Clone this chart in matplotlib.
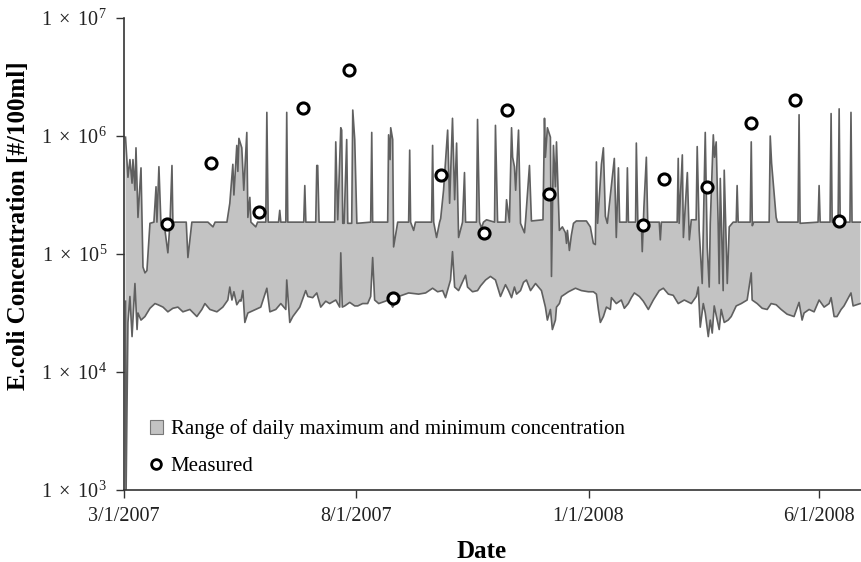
import numpy as np
import pandas as pd
import matplotlib
matplotlib.use("Agg")
import matplotlib.pyplot as plt
import matplotlib.dates as mdates
from matplotlib.lines import Line2D
from matplotlib.patches import Patch
from matplotlib.ticker import NullLocator, FixedLocator

start = pd.Timestamp("2007-03-01")

# daily max envelope: days after 3/1/2007, log10 concentration
upper_days = [1.0, 2.6, 3.9, 5.3, 5.9, 7.2, 7.9, 9.2, 11.2, 12.5, 13.8, 15.1, 17.1, 19.7, 21.1, 21.7, 23.0, 24.3,
              27.0, 28.9, 30.3, 31.6, 32.2, 41.0, 42.1, 44.7, 55.3, 58.6, 60.0, 67.8, 69.7, 71.7, 72.4, 74.3,
              75.0, 75.7, 77.6, 78.9, 80.9, 81.6, 82.9, 83.6, 86.8, 88.0, 93.4, 94.1, 95.0, 101.8, 102.6,
              103.3, 106.6, 107.2, 107.9, 118.4, 119.1, 119.8, 126.3, 127.0, 127.6, 128.5, 138.8, 139.5,
              140.8, 142.8, 143.4, 144.1, 145.0, 146.7, 147.4, 150.0, 150.7, 152.0, 153.4, 162.5, 163.2,
              163.8, 173.7, 174.3, 175.3, 175.7, 177.0, 177.6, 180.3, 187.5, 188.2, 188.8, 190.8, 192.0,
              202.6, 203.3, 204.0, 205.9, 207.9, 208.6, 210.5, 213.2, 214.5, 216.4, 217.8, 219.1, 220.4,
              223.0, 224.3, 225.0, 232.2, 232.9, 234.2, 235.5, 236.8, 238.8, 241.4, 244.1, 244.7, 246.1,
              251.3, 252.0, 253.9, 255.3, 256.0, 257.2, 258.0, 259.9, 261.2, 263.8, 264.5, 267.1, 268.4,
              276.0, 277.0, 277.6, 278.9, 280.9, 281.6, 282.9, 284.2, 284.9, 286.8, 288.8, 290.8, 291.5,
              292.1, 293.4, 294.7, 296.1, 298.0, 304.6, 307.2, 309.2, 310.5, 311.2, 312.0, 314.5, 315.8,
              317.1, 318.4, 323.0, 324.3, 325.7, 326.5, 331.0, 331.6, 332.3, 337.0, 337.5, 338.5, 340.8,
              341.4, 342.5, 344.1, 345.0, 352.6, 353.3, 354.0, 364.4, 365.1, 365.7, 367.8, 368.5, 371.1,
              372.4, 373.7, 376.9, 377.6, 378.9, 380.9, 382.9, 384.2, 385.5, 386.2, 388.2, 389.0, 390.1,
              391.4, 392.1, 392.8, 394.7, 395.4, 397.4, 398.7, 401.3, 403.3, 403.9, 404.6, 412.5, 413.2,
              413.9, 414.8, 425.0, 425.7, 426.6, 429.6, 430.5, 444.0, 444.7, 445.4, 457.2, 457.9, 458.6,
              465.1, 465.8, 466.5, 470.4, 471.1, 471.8, 478.2, 478.9, 479.6, 485.0]
upper_log10 = [5.99, 5.65, 5.80, 5.60, 5.80, 5.54, 5.90, 5.31, 5.73, 4.89, 4.84, 4.86, 5.26, 5.27, 5.57, 5.27, 5.74, 5.27,
               5.20, 5.01, 5.26, 5.75, 5.27, 5.27, 4.97, 5.27, 5.27, 5.23, 5.27, 5.27, 5.43, 5.76, 5.50, 5.92,
               5.70, 5.98, 5.90, 5.54, 6.03, 5.31, 5.48, 5.27, 5.23, 5.27, 5.27, 6.20, 5.27, 5.27, 5.37,
               5.27, 5.27, 6.20, 5.27, 5.27, 5.58, 5.27, 5.27, 5.75, 5.75, 5.27, 5.27, 5.95,
               5.29, 6.07, 6.05, 5.26, 5.26, 5.97, 5.26, 5.26, 6.22, 5.97, 5.26, 5.27, 6.03,
               5.27, 5.27, 6.01, 5.80, 6.07, 5.97, 5.06, 5.27, 5.27, 5.88, 5.27, 5.20, 5.27,
               5.27, 5.92, 5.27, 5.14, 5.27, 5.30, 5.54, 6.05, 5.43, 6.15, 5.46, 5.94, 5.14,
               5.27, 5.69, 5.27, 5.27, 6.14, 5.27, 5.22, 5.27, 5.29, 5.28, 5.27, 6.09, 5.27,
               5.27, 5.46, 5.27, 6.07, 5.82, 5.74, 5.54, 6.05, 5.26, 5.18, 5.28, 5.75, 5.28,
               5.29, 6.15, 5.82, 6.07, 5.99, 4.81, 5.92, 5.57, 5.95, 5.20, 5.23, 5.18, 5.09,
               5.20, 5.03, 5.16, 5.26, 5.28, 5.28, 5.23, 5.09, 5.08, 5.78, 5.26, 5.76, 5.90,
               5.32, 5.26, 5.81, 5.14, 5.73, 5.27, 5.27, 5.73, 5.27, 5.27, 5.94, 5.27, 5.27,
               5.02, 5.40, 5.82, 5.27, 5.27, 5.12, 5.27, 5.27, 5.81, 5.26, 5.84, 5.14, 5.69,
               5.12, 5.29, 5.29, 5.91, 5.20, 4.75, 6.03, 5.06, 4.72, 5.26, 6.01, 5.82, 5.95,
               5.26, 4.75, 5.64, 4.69, 5.71, 4.75, 5.23, 5.27, 5.27, 5.58, 5.27, 5.27, 5.95,
               5.24, 5.27, 5.27, 6.00, 5.77, 5.31, 5.27, 5.27, 6.18, 5.26, 5.27, 5.58, 5.27,
               5.27, 6.19, 5.27, 5.27, 6.23, 5.27, 5.27, 6.20, 5.27, 5.27]

# daily min envelope
lower_days = [1.0, 1.3, 2.6, 3.9, 5.3, 7.2, 8.6, 9.2, 11.2, 13.8, 17.1, 20.4, 22.4, 25.7, 28.9, 32.2, 35.5, 38.8,
              43.4, 48.0, 51.3, 53.3, 56.6, 61.2, 65.1, 68.4, 69.7, 71.1, 72.4, 74.3, 76.3, 77.0, 78.3, 79.6,
              81.6, 86.8, 90.1, 94.1, 96.1, 100.0, 103.3, 106.6, 107.2, 109.2, 111.2, 115.8, 119.7, 121.1,
              124.3, 127.0, 129.6, 132.9, 135.5, 139.5, 142.1, 142.8, 143.8, 145.4, 148.7, 152.0, 154.0,
              157.2, 160.5, 162.5, 163.8, 165.1, 167.8, 174.3, 177.0, 180.9, 187.5, 194.1, 198.7, 203.3,
              206.6, 209.9, 211.8, 215.1, 216.4, 217.8, 220.4, 225.0, 226.3, 229.6, 232.9, 234.9, 238.2,
              241.4, 244.7, 248.0, 251.3, 253.3, 255.3, 257.2, 258.6, 261.2, 263.2, 265.1, 267.8, 271.1,
              275.0, 277.6, 278.9, 280.9, 282.2, 284.2, 284.9, 286.8, 288.2, 292.8, 297.4, 301.3, 305.9,
              309.2, 311.2, 312.5, 313.8, 315.8, 317.8, 320.4, 321.1, 324.3, 327.6, 329.6, 332.2, 334.2,
              336.2, 339.5, 342.1, 345.4, 348.7, 352.6, 355.3, 358.6, 361.8, 365.1, 369.1, 373.7, 377.0,
              378.3, 379.6, 381.6, 382.9, 384.9, 386.2, 387.5, 388.8, 390.8, 392.1, 393.4, 395.4, 398.0,
              400.0, 403.3, 406.6, 410.5, 413.2, 413.8, 417.1, 420.4, 423.7, 426.3, 429.6, 432.9, 436.8,
              441.4, 444.7, 446.7, 448.0, 451.3, 454.6, 457.9, 461.2, 464.5, 465.8, 467.8, 469.7, 472.4,
              474.3, 478.9, 480.3, 485.0]
lower_log10 = [4.60, 2.90, 4.42, 4.64, 4.30, 4.75, 4.36, 4.50, 4.44, 4.47, 4.54, 4.58, 4.57, 4.55, 4.51, 4.54, 4.55, 4.51,
               4.53, 4.47, 4.53, 4.58, 4.53, 4.51, 4.55, 4.61, 4.72, 4.61, 4.68, 4.57, 4.61, 4.60, 4.69, 4.42,
               4.50, 4.53, 4.55, 4.71, 4.51, 4.53, 4.58, 4.53, 4.78, 4.42, 4.47, 4.55, 4.69, 4.64,
               4.63, 4.67, 4.55, 4.60, 4.58, 4.61, 4.55, 5.01, 4.55, 4.56, 4.59, 4.56, 4.56,
               4.58, 4.58, 4.64, 4.97, 4.61, 4.58, 4.61, 4.55, 4.64, 4.67, 4.66, 4.67, 4.71,
               4.68, 4.69, 4.63, 4.78, 5.02, 4.72, 4.69, 4.82, 4.72, 4.68, 4.69, 4.73, 4.78,
               4.81, 4.78, 4.64, 4.74, 4.69, 4.63, 4.72, 4.66, 4.69, 4.76, 4.78, 4.69, 4.75,
               4.69, 4.55, 4.44, 4.53, 4.36, 4.44, 4.55, 4.58, 4.64, 4.68, 4.71, 4.69, 4.68,
               4.68, 4.66, 4.53, 4.42, 4.47, 4.55, 4.53, 4.63, 4.58, 4.61, 4.54, 4.58, 4.63,
               4.67, 4.64, 4.60, 4.53, 4.61, 4.69, 4.71, 4.66, 4.65, 4.58, 4.61, 4.58, 4.64,
               4.72, 4.38, 4.58, 4.50, 4.30, 4.44, 4.33, 4.56, 4.44, 4.36, 4.53, 4.42, 4.44,
               4.47, 4.56, 4.58, 4.61, 4.84, 4.61, 4.58, 4.54, 4.53, 4.58, 4.57, 4.53, 4.49,
               4.47, 4.59, 4.44, 4.50, 4.53, 4.51, 4.61, 4.55, 4.58, 4.63, 4.47, 4.47, 4.53,
               4.56, 4.67, 4.56, 4.58]

# measured samples
measured_dates = ["2007-03-29", "2007-04-27", "2007-05-29", "2007-06-27", "2007-07-27", "2007-08-25",
                  "2007-09-26", "2007-10-24", "2007-11-08", "2007-12-06", "2008-02-06", "2008-02-20",
                  "2008-03-19", "2008-04-17", "2008-05-16", "2008-06-14"]
measured_values = [1.8e5, 5.9e5, 2.27e5, 1.73e6, 3.6e6, 4.2e4, 4.7e5, 1.5e5, 1.66e6, 3.2e5,
                   1.76e5, 4.3e5, 3.7e5, 1.3e6, 2.0e6, 1.9e5]

tick_dates = ["2007-03-01", "2007-08-01", "2008-01-01", "2008-06-01"]
tick_labels = ["3/1/2007", "8/1/2007", "1/1/2008", "6/1/2008"]
ytick_values = [1e3, 1e4, 1e5, 1e6, 1e7]
ytick_labels = [r"$1\ \times\ 10^{3}$", r"$1\ \times\ 10^{4}$", r"$1\ \times\ 10^{5}$",
                r"$1\ \times\ 10^{6}$", r"$1\ \times\ 10^{7}$"]

plt.rcParams["font.family"] = ["Liberation Serif", "DejaVu Serif"]
plt.rcParams["mathtext.fontset"] = "custom"
plt.rcParams["mathtext.rm"] = "Liberation Serif"
plt.rcParams["mathtext.it"] = "Liberation Serif:italic"
plt.rcParams["mathtext.bf"] = "Liberation Serif:bold"


def to_num(days):
    return mdates.date2num(start + pd.to_timedelta(np.array(days), unit="D"))


ux = to_num(upper_days)
uy = 10 ** np.array(upper_log10)
lx = to_num(lower_days)
ly = 10 ** np.array(lower_log10)

fig = plt.figure(figsize=(8.61, 5.62), dpi=100)
ax = fig.add_axes([124 / 861, 1 - 490 / 562, 1 - 124 / 861, 472 / 562])

band_face = "#c3c3c3"
band_edge = "#606060"
ax.fill(np.concatenate([ux, lx[::-1]]), np.concatenate([uy, ly[::-1]]),
        facecolor=band_face, edgecolor="none", zorder=1)
ax.plot(ux, uy, color=band_edge, lw=1.2, zorder=2)
ax.plot(lx, ly, color=band_edge, lw=1.2, zorder=2)

mx = mdates.date2num(pd.to_datetime(measured_dates))
ax.plot(mx, measured_values, "o", ms=8, mfc="white", mec="black", mew=2.2, zorder=3)

ax.set_yscale("log")
ax.set_ylim(1e3, 1e7)
ax.set_xlim(to_num([0])[0], to_num([485.5])[0])
ax.yaxis.set_major_locator(FixedLocator(ytick_values))
ax.yaxis.set_minor_locator(NullLocator())
ax.set_yticklabels(ytick_labels)
ax.set_xticks(mdates.date2num(pd.to_datetime(tick_dates)))
ax.set_xticklabels(tick_labels)
ax.tick_params(axis="both", which="major", labelsize=14.5, length=6, width=1.0,
               color="#333333", labelcolor="#222222", direction="out")
ax.tick_params(axis="y", pad=6)
ax.tick_params(axis="x", pad=6)

for s in ["top", "right"]:
    ax.spines[s].set_visible(False)
for s in ["left", "bottom"]:
    ax.spines[s].set_color("#333333")
    ax.spines[s].set_linewidth(1.2)

ax.set_xlabel("Date", fontsize=18, fontweight="bold", labelpad=6)
ax.xaxis.set_label_coords(0.485, -0.105)
ax.set_ylabel("E.coli Concentration [#/100ml]", fontsize=18, fontweight="bold")
ax.yaxis.set_label_coords(-0.128, 0.56)

handles = [Patch(facecolor=band_face, edgecolor="#777777", linewidth=0.8),
           Line2D([], [], marker="o", ls="none", ms=7, mfc="white", mec="black", mew=2.0)]
labels = ["Range of daily maximum and minimum concentration", "Measured"]
ax.legend(handles, labels, loc="lower left", bbox_to_anchor=(0.024, 0.011), borderaxespad=0,
          frameon=False, fontsize=15, handlelength=0.6, handleheight=0.6, handletextpad=0.4,
          labelspacing=0.87)

plt.savefig("out.png", dpi=100)
